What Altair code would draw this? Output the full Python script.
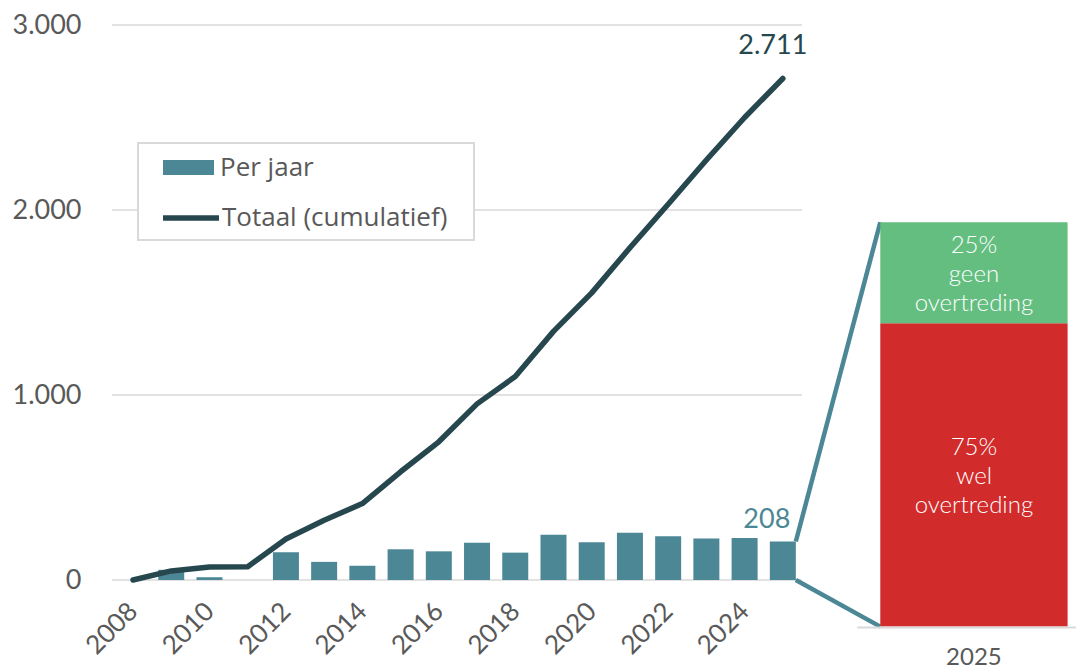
import altair as alt
import pandas as pd

# ---------------- data ----------------
YEARS = list(range(2008, 2026))
PER_JAAR = [0, 55, 15, 0, 150, 98, 77, 166, 155, 202, 148, 245, 204, 256, 236, 224, 227, 208]
TOTAAL = [0, 49, 70, 72, 222, 323, 413, 585, 747, 952, 1100, 1344, 1552, 1796, 2031, 2270, 2500, 2711]
SPLIT_NAMES = ["wel overtreding", "geen overtreding"]
SPLIT_LABELS = ["75%\nwel\novertreding", "25%\ngeen\novertreding"]
SPLIT_PCT = [75, 25]
Y_TICKS = [0, 1000, 2000, 3000]
X_TICKS = list(range(2008, 2025, 2))
LEGEND_BAR = "Per jaar"
LEGEND_LINE = "Totaal (cumulatief)"

# ---------------- style / layout ----------------
FONT = "Lato"
FONT_W = "Open Sans"
TEAL = "#4b8794"
DARK = "#27474e"
GREEN = "#63be7f"
RED = "#d22b2b"
GRID = "#d9d9d9"
GRAY = "#595959"

X_DOMAIN = [2007.45, 2032.67]
Y_DOMAIN = [0, 3000]
W, H = 974, 555
GRID_END = 2025.5
BAR_HALF = 0.34
INSET_X = [2027.55, 2032.45]
INSET_Y = [-252, 1934]        # inset extent in y-axis units
INSET_BASE_Y = -257
INSET_BASE_X0 = 2026.95

xs = alt.Scale(domain=X_DOMAIN, nice=False, zero=False)
ys = alt.Scale(domain=Y_DOMAIN, nice=False)

x_axis = alt.Axis(values=X_TICKS, format="d", labelAngle=315, labelAlign="right",
                  labelBaseline="middle", labelFont=FONT,
                  labelFontSize=26, labelColor=GRAY, domain=False, ticks=False,
                  grid=False, labelPadding=27, title=None, labelOverlap=False)
y_axis = alt.Axis(values=Y_TICKS, labelExpr="replace(format(datum.value, ','), ',', '.')",
                  labelFont=FONT, labelFontSize=27, labelColor=GRAY, domain=False,
                  ticks=False, grid=False, labelPadding=26, title=None)


def X(f):
    return alt.X(f, scale=xs, axis=x_axis, title=None)


def Y(f):
    return alt.Y(f, scale=ys, axis=y_axis, title=None)


df = pd.DataFrame({
    "jaar": YEARS,
    "per_jaar": PER_JAAR,
    "totaal": TOTAAL,
    "serie_bar": LEGEND_BAR,
    "serie_line": LEGEND_LINE,
})

grid_df = pd.DataFrame({"y": Y_TICKS, "x0": X_DOMAIN[0], "x1": GRID_END})
grid = alt.Chart(grid_df).mark_rule(color=GRID, strokeWidth=1.5).encode(
    x=X("x0:Q"), x2="x1:Q", y=Y("y:Q"))

bars = alt.Chart(df).mark_bar(size=26).encode(
    x=X("jaar:Q"),
    y=Y("per_jaar:Q"),
    fill=alt.Fill("serie_bar:N", scale=alt.Scale(domain=[LEGEND_BAR], range=[TEAL]),
                  legend=alt.Legend(title=None, orient="none", legendX=56, legendY=117,
                                    symbolType="M-1,-0.294H1V0.294H-1Z", symbolSize=2601,
                                    symbolStrokeWidth=0, labelFont=FONT_W, labelFontSize=26,
                                    labelColor=GRAY, labelOffset=6, labelLimit=0, padding=0)),
)

line = alt.Chart(df).mark_line(strokeWidth=5.5, strokeCap="round", strokeJoin="round").encode(
    x=X("jaar:Q"),
    y=Y("totaal:Q"),
    stroke=alt.Stroke("serie_line:N", scale=alt.Scale(domain=[LEGEND_LINE], range=[DARK]),
                      legend=alt.Legend(title=None, orient="none", legendX=53, legendY=162,
                                        symbolType="stroke", symbolSize=3136,
                                        symbolStrokeWidth=5.5, labelFont=FONT_W,
                                        labelFontSize=26, labelColor=GRAY, labelOffset=0,
                                        labelLimit=0, padding=0)),
)

# annotations of last values
last = pd.DataFrame({
    "jaar": [YEARS[-1]],
    "totaal": [TOTAAL[-1]],
    "per_jaar": [PER_JAAR[-1]],
    "lab_tot": [f"{TOTAAL[-1]:,}".replace(",", ".")],
    "lab_bar": [str(PER_JAAR[-1])],
})
lab_tot = alt.Chart(last).mark_text(font=FONT, fontSize=27, color=DARK, dx=-10, dy=-32).encode(
    x=X("jaar:Q"), y=Y("totaal:Q"), text="lab_tot:N")
lab_bar = alt.Chart(last).mark_text(font=FONT, fontSize=27, color=TEAL, dx=-16, dy=-22).encode(
    x=X("jaar:Q"), y=Y("per_jaar:Q"), text="lab_bar:N")

# inset: 2025 split
span = INSET_Y[1] - INSET_Y[0]
starts, ends = [], []
acc = INSET_Y[0]
for p in SPLIT_PCT:
    starts.append(acc)
    acc = acc + span * p / 100
    ends.append(acc)
inset_df = pd.DataFrame({
    "naam": SPLIT_NAMES, "label": SPLIT_LABELS, "y0": starts, "y1": ends,
    "ymid": [(a + b) / 2 for a, b in zip(starts, ends)],
    "x0": INSET_X[0], "x1": INSET_X[1], "xm": sum(INSET_X) / 2,
})
inset = alt.Chart(inset_df).mark_rect().encode(
    x=X("x0:Q"), x2="x1:Q",
    y=Y("y0:Q"), y2="y1:Q",
    fill=alt.Fill("naam:N", scale=alt.Scale(domain=SPLIT_NAMES, range=[RED, GREEN]), legend=None),
)
inset_txt = alt.Chart(inset_df).mark_text(font=FONT, fontSize=24, fontWeight=300, color="white",
                                          lineBreak="\n", lineHeight=29, baseline="middle",
                                          dy=-27).encode(
    x=X("xm:Q"), y=Y("ymid:Q"), text="label:N")

base_df = pd.DataFrame({"y": [INSET_BASE_Y], "x0": [INSET_BASE_X0], "x1": [X_DOMAIN[1]],
                        "xm": [sum(INSET_X) / 2], "lab": [str(YEARS[-1])], "yb": [INSET_Y[0]]})
inset_base = alt.Chart(base_df).mark_rule(color=GRID, strokeWidth=2).encode(
    x=X("x0:Q"), x2="x1:Q", y=Y("y:Q"))
inset_lab = alt.Chart(base_df).mark_text(font=FONT, fontSize=24, color=GRAY, dy=31).encode(
    x=X("xm:Q"), y=Y("yb:Q"), text="lab:N")

conn_df = pd.DataFrame({
    "x0": [YEARS[-1] + BAR_HALF, YEARS[-1] + BAR_HALF],
    "y0": [PER_JAAR[-1], 0],
    "x1": [INSET_X[0], INSET_X[0]],
    "y1": [INSET_Y[1], INSET_Y[0]],
})
conn = alt.Chart(conn_df).mark_rule(color=TEAL, strokeWidth=4.5).encode(
    x=X("x0:Q"), x2="x1:Q",
    y=Y("y0:Q"), y2="y1:Q")

legend_box = alt.Chart(pd.DataFrame({"a": [0]})).mark_rect(
    fill="white", stroke=GRID, strokeWidth=2).encode(
    x=alt.value(31), x2=alt.value(367), y=alt.value(118), y2=alt.value(215))

chart = alt.layer(
    grid, legend_box, bars, line, conn, inset, inset_txt, inset_base, inset_lab, lab_tot, lab_bar
).resolve_scale(fill="independent").properties(
    width=W, height=H,
    autosize=alt.AutoSizeParams(type="none"),
    padding={"left": 99, "top": 17, "right": 0, "bottom": 91},
).configure_view(stroke=None)

chart.save("out.html", embed_options={"renderer": "svg", "actions": False})
